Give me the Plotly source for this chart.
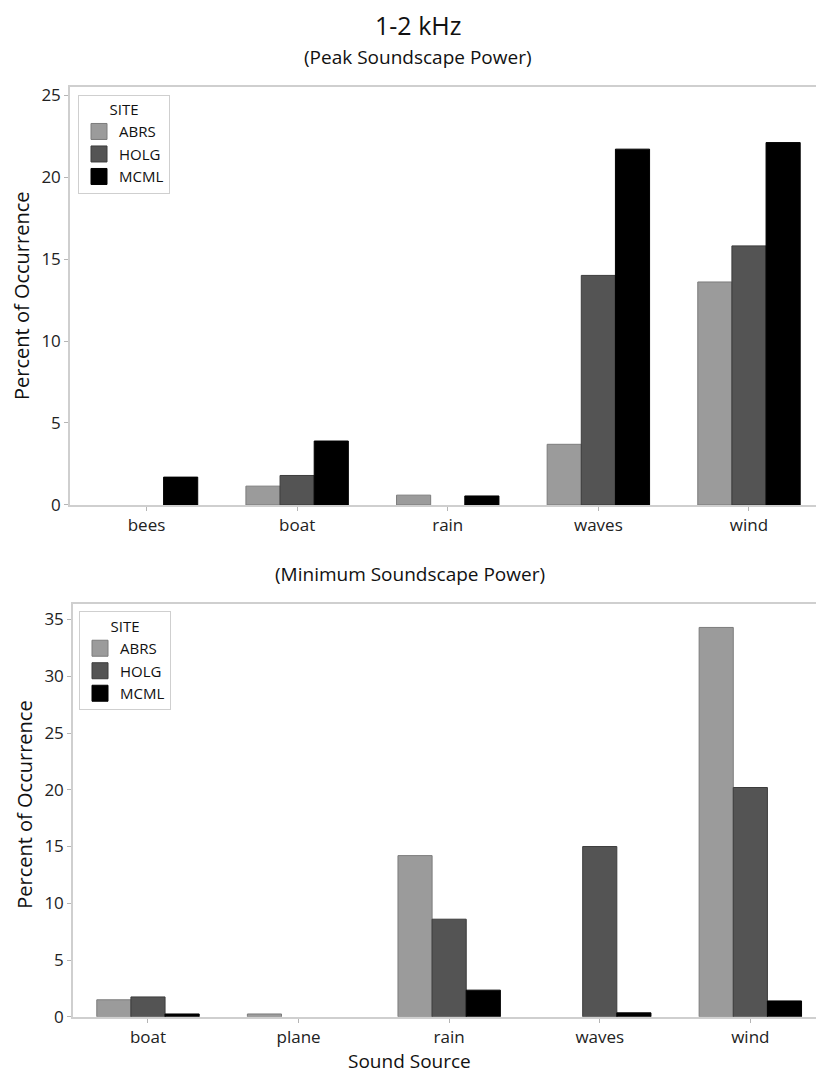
import plotly.graph_objects as go

# ---------------- data ----------------
sites = ["ABRS", "HOLG", "MCML"]
site_colors = ["#9b9b9b", "#545454", "#000000"]
site_lines = ["#7c7c7c", "#3c3c3c", "#000000"]

peak_sources = ["bees", "boat", "rain", "waves", "wind"]
peak_abrs = [0, 1.15, 0.6, 3.7, 13.6]
peak_holg = [0, 1.8, 0, 14.0, 15.8]
peak_mcml = [1.7, 3.9, 0.55, 21.7, 22.1]

min_sources = ["boat", "plane", "rain", "waves", "wind"]
min_abrs = [1.5, 0.25, 14.2, 0, 34.3]
min_holg = [1.75, 0, 8.6, 15.0, 20.2]
min_mcml = [0.25, 0, 2.35, 0.35, 1.4]

peak_ticks = [0, 5, 10, 15, 20, 25]
min_ticks = [0, 5, 10, 15, 20, 25, 30, 35]

FONT = "Open Sans"
W, H = 816, 1086


def nz(vals):
    # zero-height bars are not drawn in the reference
    return [v if v > 0 else None for v in vals]


fig = go.Figure()

peak_series = [peak_abrs, peak_holg, peak_mcml]
min_series = [min_abrs, min_holg, min_mcml]

for i, s in enumerate(sites):
    fig.add_trace(go.Bar(
        x=peak_sources, y=nz(peak_series[i]), name=s, xaxis="x", yaxis="y",
        marker=dict(color=site_colors[i], line=dict(color=site_lines[i], width=1)),
        showlegend=False, offsetgroup=str(i),
    ))
    fig.add_trace(go.Bar(
        x=min_sources, y=nz(min_series[i]), name=s, xaxis="x2", yaxis="y2",
        marker=dict(color=site_colors[i], line=dict(color=site_lines[i], width=1)),
        showlegend=False, offsetgroup=str(i),
    ))

# legend swatches (one legend per panel)
for lg, xa, ya in [("legend", "x", "y"), ("legend2", "x2", "y2")]:
    for i, s in enumerate(sites):
        fig.add_trace(go.Scatter(
            x=[None], y=[None], mode="markers", name=s, xaxis=xa, yaxis=ya,
            marker=dict(symbol="square", size=16, color=site_colors[i],
                        line=dict(color=site_lines[i], width=1)),
            legend=lg, showlegend=True,
        ))

axis_line = "#cfcfcf"
tick_font = dict(family=FONT, size=17, color="#222222")


def xax(dom, rng):
    return dict(domain=dom, range=rng, type="category", showline=True, linecolor=axis_line,
                linewidth=1.5, mirror=True, ticks="outside", ticklen=4, tickcolor="#b5b5b5",
                showgrid=False, zeroline=False, tickfont=tick_font, fixedrange=True)


def yax(dom, rng, ticks, anchor):
    return dict(domain=dom, range=rng, tickvals=ticks, showline=True, linecolor=axis_line,
                linewidth=1.5, ticks="outside", ticklen=4, tickcolor="#b5b5b5",
                showgrid=False, zeroline=False, tickfont=tick_font, anchor=anchor)


def legend_box(x, y):
    return dict(x=x / W, y=1 - y / H, xanchor="left", yanchor="top",
                bordercolor="#cfcfcf", borderwidth=1, bgcolor="white",
                font=dict(family=FONT, size=15, color="#111111"),
                title=dict(text="SITE", side="top center", font=dict(family=FONT, size=15)),
                itemsizing="trace")


def ann(text, x, y, size, angle=0):
    return dict(text=text, x=x / W, y=1 - y / H, xref="paper", yref="paper",
                xanchor="center", yanchor="middle", showarrow=False, textangle=angle,
                font=dict(family=FONT, size=size, color="#111111"))


fig.update_layout(
    width=W, height=H, autosize=False,
    margin=dict(l=0, r=0, t=0, b=0),
    paper_bgcolor="white", plot_bgcolor="white",
    barmode="group", bargap=0.32, bargroupgap=0,
    font=dict(family=FONT, color="#111111"),
    xaxis=dict(**xax([70 / W, 1], [-0.508, 4.445]), anchor="y"),
    yaxis=yax([1 - 508 / H, 1 - 84 / H], [0, 25.5], peak_ticks, "x"),
    xaxis2=dict(**xax([73 / W, 1], [-0.498, 4.436]), anchor="y2"),
    yaxis2=yax([1 - 1027 / H, 1 - 608 / H], [0, 36.4], min_ticks, "x2"),
    legend=legend_box(78, 92),
    legend2=legend_box(79, 616),
    annotations=[
        ann("1-2 kHz", 418, 21, 25),
        ann("(Peak Soundscape Power)", 418, 54, 19),
        ann("(Minimum Soundscape Power)", 410, 578, 19),
        ann("Percent of Occurrence", 22, 296, 20, -90),
        ann("Percent of Occurrence", 25, 812, 20, -90),
        ann("Sound Source", 409, 1072, 19),
    ],
)

fig.write_html(
    "out.html",
    config={"displayModeBar": False, "responsive": False},
    post_script=(
        "document.documentElement.style.margin='0';"
        "document.body.style.margin='0';"
        "document.body.style.overflow='hidden';"
        "var g=document.getElementsByClassName('plotly-graph-div')[0];"
        "g.style.position='fixed';g.style.top='0px';g.style.left='0px';"
    ),
)
